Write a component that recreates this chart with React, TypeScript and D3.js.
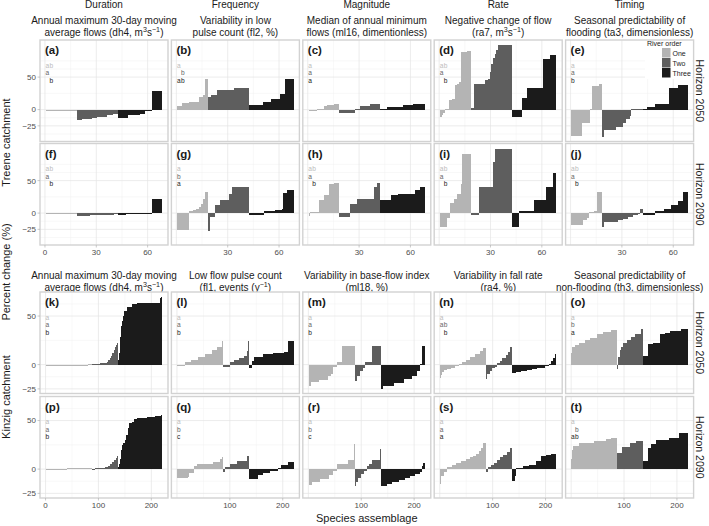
import React from 'react';
import * as d3 from 'd3';

// [percent change, number of species assemblages at that value], sorted within each river order
type Run = [number, number];

const riverOrders = ['One', 'Two', 'Three'];
const treeneGroupSizes = [18, 24, 26];
const kinzigGroupSizes = [87, 49, 84];

const facetTitles = ['Duration', 'Frequency', 'Magnitude', 'Rate', 'Timing'];
const treeneMetricTitles = [
  ['Annual maximum 30-day moving', 'average flows (dh4, m^{3}s^{−1})'],
  ['Variability in low', 'pulse count  (fl2, %)'],
  ['Median of annual minimum', 'flows (ml16, dimentionless)'],
  ['Negative change of flow', '(ra7, m^{3}s^{−1})'],
  ['Seasonal predictability of', 'flooding (ta3, dimensionless)'],
];
const kinzigMetricTitles = [
  ['Annual maximum 30-day moving', 'average flows (dh4, m^{3}s^{−1})'],
  ['Low flow pulse count', '(fl1, events (y^{−1})'],
  ['Variability in base-flow index', '(ml18, %)'],
  ['Variability in fall rate', '(ra4, %)'],
  ['Seasonal predictability of', 'non-flooding (th3, dimensionless)'],
];
const horizonLabels = ['Horizon 2050', 'Horizon 2090'];
const panelTags = [['a', 'b', 'c', 'd', 'e'], ['f', 'g', 'h', 'i', 'j'], ['k', 'l', 'm', 'n', 'o'], ['p', 'q', 'r', 's', 't']];

const yTicks = [-25, 0, 50];
const yMinorTicks = [-37.5, -12.5, 25, 62.5, 75];
const treeneXTicks = [0, 30, 60];
const treeneXMinor = [15, 45];
const kinzigXTicks = [0, 100, 200];
const kinzigXMinor = [50, 150];

// ---- Treene, horizon 2050
const runsA: Run[][] = [
  [[-1.5, 3], [-1, 10], [-0.5, 5]],
  [[-16, 3], [-15, 3], [-14, 3], [-13, 3], [-12, 3], [-11, 3], [-9, 3], [-7, 3]],
  [[-13, 6], [-9, 4], [-8, 3], [-7, 3], [-1.5, 4], [29, 6]],
];
const runsB: Run[][] = [
  [[5, 3], [10, 4], [12, 6], [19, 2], [22, 1], [47, 2]],
  [[19, 2], [23, 3], [30, 10], [33, 9]],
  [[7, 8], [12, 5], [16, 5], [24, 3], [47, 5]],
];
const runsC: Run[][] = [
  [[-1, 5], [0.5, 4], [6, 2], [7, 4], [8, 3]],
  [[-5.5, 9], [0.3, 3], [5, 6], [9, 6]],
  [[0.5, 4], [4.5, 9], [6.5, 6], [9, 7]],
];
const runsD: Run[][] = [
  [[-12, 1], [-8, 1], [-5, 1], [0.5, 2], [15, 2], [16, 1], [17, 1], [38, 1], [40, 1], [42, 1], [88, 2], [89, 2], [90, 2]],
  [[2, 2], [40, 6], [46, 2], [47, 1], [58, 1], [70, 1], [80, 1], [86, 1], [92, 1], [100, 8]],
  [[-12, 6], [18, 3], [33, 9], [78, 4], [84, 4]],
];
const runsE: Run[][] = [
  [[-40, 6], [-20, 5], [0.3, 1], [36, 4], [39, 2]],
  [[-42, 1], [-31, 7], [-27, 4], [-20, 2], [-14, 2], [-10, 1], [0.5, 7]],
  [[0.3, 2], [3.5, 5], [9, 8], [33, 5], [38, 6]],
];
// ---- Treene, horizon 2090
const runsF: Run[][] = [
  [[-0.5, 18]],
  [[-4, 8], [-3.5, 8], [-2.5, 6], [-1, 2]],
  [[-3, 5], [-1.5, 6], [-1, 9], [21, 6]],
];
const runsG: Run[][] = [
  [[-26, 7], [3, 2], [5, 2], [6, 2], [9, 1], [14, 1], [22, 1], [32, 2]],
  [[-27, 1], [-6, 3], [12, 3], [20, 5], [30, 2], [40, 10]],
  [[-3.5, 9], [3, 6], [5, 4], [6, 1], [31, 2], [36, 4]],
];
const runsH: Run[][] = [
  [[-5, 1], [0.5, 5], [20, 3], [28, 3], [45, 3], [47, 3]],
  [[-6, 6], [14, 4], [21, 10], [40, 2], [46, 2]],
  [[20, 6], [28, 4], [30, 10], [36, 3], [40, 3]],
];
const runsI: Run[][] = [
  [[-22, 4], [-8, 2], [15, 2], [22, 2], [30, 2], [45, 1], [91, 5]],
  [[-2.5, 5], [40, 8], [78, 1], [99, 10]],
  [[-22, 4], [3, 9], [20, 7], [40, 4], [62, 2]],
];
const runsJ: Run[][] = [
  [[-18, 7], [-11, 2], [-7, 1], [0.5, 3], [3, 2], [33, 3]],
  [[-22, 1], [-13, 8], [-11, 3], [-9, 3], [-6, 3], [-3, 3], [-1, 1], [7, 2]],
  [[-3.6, 7], [3, 5], [7, 4], [12, 4], [19, 3], [33, 3]],
];
// ---- Kinzig, horizon 2050
const runsK: Run[][] = [
  [[-1, 20], [-0.6, 30], [-0.3, 30], [0.5, 7]],
  [[0.5, 8], [1, 8], [1.5, 6], [2, 6], [3, 3], [5, 3], [7, 3], [9, 2], [12, 2], [15, 2], [18, 2], [20, 2], [22, 2]],
  [[3, 1], [5, 1], [8, 1], [12, 1], [20, 1], [28, 1], [35, 1], [40, 1], [45, 1], [48, 1], [50, 1], [52, 1], [55, 5], [59, 10], [62, 9], [63.5, 44], [69, 2], [70, 2]],
];
const runsL: Run[][] = [
  [[-1.7, 15], [2.4, 12], [5, 13], [7.5, 13], [11, 13], [14.6, 9], [18, 9], [24, 3]],
  [[-2.5, 12], [3, 8], [5, 10], [7, 9], [9, 6], [14, 2], [24, 2]],
  [[-3, 6], [4, 4], [8, 16], [11, 20], [12, 20], [13, 8], [24, 10]],
];
const runsM: Run[][] = [
  [[-22, 4], [-18, 16], [-16, 16], [-12, 6], [-10, 4], [-2, 8], [3, 10], [19, 23]],
  [[-17, 4], [-12, 6], [-7, 6], [-3, 4], [3, 13], [19, 16]],
  [[-25, 5], [-22, 20], [-19, 19], [-15, 16], [-12, 9], [-7, 6], [0.3, 3], [19, 6]],
];
const runsN: Run[][] = [
  [[-14, 1], [-11, 2], [-8, 4], [-6, 6], [-5, 8], [-3, 8], [-1, 6], [1, 6], [3, 8], [5, 8], [8, 10], [11, 8], [14, 7], [17, 5]],
  [[-15, 2], [-10, 5], [-7, 5], [-4, 5], [-2, 4], [2, 5], [4, 5], [7, 6], [10, 5], [13, 4], [18, 3]],
  [[-9, 8], [-8, 10], [-7, 10], [-6, 10], [-5, 10], [-4, 8], [-3, 6], [-1, 8], [1, 4], [4, 4], [7, 3], [11, 3]],
];
const runsO: Run[][] = [
  [[12, 2], [18, 4], [20, 8], [22, 12], [25, 10], [27, 12], [31, 12], [34, 14], [36, 13]],
  [[-5, 1], [8, 3], [15, 3], [18, 4], [22, 8], [25, 6], [28, 8], [32, 12], [37, 4]],
  [[9, 9], [21, 10], [22, 12], [32, 10], [33, 9], [35, 22], [37, 12]],
];
// ---- Kinzig, horizon 2090
const runsP: Run[][] = [
  [[-0.3, 40], [0.2, 47]],
  [[-1, 6], [0.5, 10], [1, 8], [2, 6], [3, 5], [5, 4], [7, 3], [9, 3], [11, 2], [13, 2]],
  [[2, 2], [5, 2], [10, 2], [20, 2], [25, 2], [27, 3], [30, 3], [35, 3], [42, 2], [47, 5], [48, 4], [52, 6], [53, 20], [54, 15], [55, 10], [56, 3]],
];
const runsQ: Run[][] = [
  [[-9, 20], [-8, 3], [-4, 8], [3, 6], [5, 31], [7, 13], [10, 3], [12, 3]],
  [[-3.4, 3], [2.4, 10], [5, 13], [8.5, 19], [13.6, 4]],
  [[-10, 17], [-6, 9], [-4, 13], [-2, 16], [1, 6], [4, 13], [7.5, 10]],
];
const runsR: Run[][] = [
  [[-16, 6], [-13.6, 16], [-10, 16], [-6, 9], [-2, 6], [4.8, 22], [9.5, 11], [26, 1]],
  [[-17, 2], [-13, 5], [-9, 5], [-5, 5], [-2, 6], [3, 4], [5, 6], [9, 15], [21, 1]],
  [[-17, 12], [-15, 10], [-13, 12], [-11, 12], [-9, 10], [-7, 10], [-5, 8], [-3, 4], [3, 3], [6, 3]],
];
const runsS: Run[][] = [
  [[-15, 2], [-7, 6], [-3, 6], [2, 9], [4, 8], [6, 9], [8, 9], [10, 7], [12, 6], [14, 6], [16, 5], [19, 5], [22, 4], [27, 5]],
  [[-3, 3], [2, 6], [4, 6], [6, 6], [9, 6], [12, 6], [15, 6], [18, 6], [22, 4]],
  [[-12, 5], [-7, 3], [0.5, 13], [3, 12], [4, 13], [8, 9], [13, 9], [15, 10], [16, 10]],
];
const runsT: Run[][] = [
  [[10, 1], [20, 2], [24, 12], [27, 28], [29, 22], [31, 10], [32, 12]],
  [[17, 8], [23, 16], [26.5, 12], [29, 12], [41, 1]],
  [[8.5, 9], [22, 6], [25.5, 9], [30, 25], [32, 19], [37, 16]],
];

// significance letters (One, Two, Three)
const lettersTreene2050 = [['ab', 'a', 'b'], ['a', 'b', 'ab'], ['a', 'a', 'a'], ['ab', 'a', 'b'], ['a', 'a', 'b']];
const lettersTreene2090 = [['ab', 'a', 'b'], ['a', 'b', 'a'], ['ab', 'a', 'b'], ['ab', 'a', 'b'], ['ab', 'a', 'b']];
const lettersKinzig2050 = [['a', 'a', 'b'], ['a', 'a', 'b'], ['a', 'a', 'b'], ['a', 'ab', 'b'], ['a', 'b', 'a']];
const lettersKinzig2090 = [['a', 'a', 'b'], ['a', 'b', 'c'], ['a', 'b', 'c'], ['a', 'a', 'a'], ['a', 'b', 'ab']];

const fills = ['#b4b4b4', '#5e5e5e', '#1b1b1b'];
const letterFills = ['#bcbcbc', '#666666', '#1b1b1b'];
const SANS = '"Liberation Sans", Arial, Helvetica, sans-serif';

const panelLeft0 = 40;
const panelW = 128;
const panelGap = 3.4;
const panelH = 101.5;
const rowTops = [40, 143.5, 292, 396.5];

const expandRuns = (runs: Run[]) => runs.flatMap(([v, n]) => Array(n).fill(v) as number[]);

const fmt = (v: number) => (v < 0 ? '\u2212' + Math.abs(v) : String(v));

function RichText({ s, x, y, size }: { s: string; x: number; y: number; size: number }) {
  const parts = s.split(/(\^\{[^}]*\})/).filter((p) => p.length);
  return (
    <text x={x} y={y} textAnchor="middle" fontSize={size} fill="#1a1a1a">
      {parts.map((p, i) =>
        p.startsWith('^{') ? (
          <tspan key={i} baselineShift="3.6" fontSize={size * 0.72}>{p.slice(2, -1)}</tspan>
        ) : (
          <tspan key={i}>{p}</tspan>
        )
      )}
    </text>
  );
}

function yDomain(panels: Run[][][]) {
  const vals = panels.flatMap((p) => p.flatMap((g) => g.map((r) => r[0])));
  const [lo, hi] = d3.extent(vals) as [number, number];
  const pad = (hi - lo) * 0.05;
  return [lo - pad, hi + pad];
}

export default function App() {
  const treenePanels = [[runsA, runsB, runsC, runsD, runsE], [runsF, runsG, runsH, runsI, runsJ]];
  const kinzigPanels = [[runsK, runsL, runsM, runsN, runsO], [runsP, runsQ, runsR, runsS, runsT]];
  const treeneY = yDomain(treenePanels.flat());
  const kinzigY = yDomain(kinzigPanels.flat());

  const rows = [
    { panels: treenePanels[0], letters: lettersTreene2050, sizes: treeneGroupSizes, yd: treeneY, xt: treeneXTicks, xm: treeneXMinor, bottom: false },
    { panels: treenePanels[1], letters: lettersTreene2090, sizes: treeneGroupSizes, yd: treeneY, xt: treeneXTicks, xm: treeneXMinor, bottom: true },
    { panels: kinzigPanels[0], letters: lettersKinzig2050, sizes: kinzigGroupSizes, yd: kinzigY, xt: kinzigXTicks, xm: kinzigXMinor, bottom: false },
    { panels: kinzigPanels[1], letters: lettersKinzig2090, sizes: kinzigGroupSizes, yd: kinzigY, xt: kinzigXTicks, xm: kinzigXMinor, bottom: true },
  ];

  const colLeft = (c: number) => panelLeft0 + c * (panelW + panelGap);
  const rightEdge = colLeft(4) + panelW;

  return (
    <svg width={709} height={526} style={{ position: 'absolute', left: 0, top: 0, background: '#fff' }} fontFamily={SANS}>
      <rect width={709} height={526} fill="#fff" />
      {/* column headers + metric titles */}
      {facetTitles.map((t, c) => {
        const cx = colLeft(c) + panelW / 2;
        return (
          <g key={t}>
            <text x={cx} y={8.3} textAnchor="middle" fontSize={10} fill="#1a1a1a">{t}</text>
            <RichText s={treeneMetricTitles[c][0]} x={cx} y={24} size={10} />
            <RichText s={treeneMetricTitles[c][1]} x={cx} y={36.3} size={10} />
            <RichText s={kinzigMetricTitles[c][0]} x={cx} y={279} size={10} />
            <RichText s={kinzigMetricTitles[c][1]} x={cx} y={290.6} size={10} />
          </g>
        );
      })}

      {rows.map((row, r) => {
        const top = rowTops[r];
        const y = d3.scaleLinear().domain(row.yd).range([top + panelH, top]);
        const n = d3.sum(row.sizes);
        return (
          <g key={r}>
            {row.panels.map((runs, c) => {
              const left = colLeft(c);
              const x = d3.scaleLinear().domain([0.5 - 0.05 * n, n + 0.5 + 0.05 * n]).range([left, left + panelW]);
              const bars: { i: number; v: number; g: number }[] = [];
              let idx = 1;
              runs.forEach((g, gi) => {
                expandRuns(g).forEach((v) => { bars.push({ i: idx, v, g: gi }); idx++; });
              });
              const lab = row.letters[c];
              const multi = lab.some((s) => s.length > 1);
              return (
                <g key={c}>
                  <rect x={left} y={top} width={panelW} height={panelH} fill="#fff" />
                  {row.xm.map((t) => (
                    <line key={'xm' + t} x1={x(t)} x2={x(t)} y1={top} y2={top + panelH} stroke="#f0f0f0" strokeWidth={0.5} />
                  ))}
                  {yMinorTicks.filter((t) => t > row.yd[0] && t < row.yd[1]).map((t) => (
                    <line key={'ym' + t} x1={left} x2={left + panelW} y1={y(t)} y2={y(t)} stroke="#f0f0f0" strokeWidth={0.5} />
                  ))}
                  {row.xt.map((t) => (
                    <line key={'xg' + t} x1={x(t)} x2={x(t)} y1={top} y2={top + panelH} stroke="#e4e4e4" strokeWidth={0.7} />
                  ))}
                  {yTicks.map((t) => (
                    <line key={'yg' + t} x1={left} x2={left + panelW} y1={y(t)} y2={y(t)} stroke="#e4e4e4" strokeWidth={0.7} />
                  ))}
                  <g shapeRendering="crispEdges">
                    {bars.map((b) => {
                      const y0 = y(0);
                      const y1 = y(b.v);
                      const h = Math.max(Math.abs(y1 - y0), 1);
                      return (
                        <rect
                          key={b.i}
                          x={x(b.i - 0.5)}
                          width={x(b.i + 0.5) - x(b.i - 0.5)}
                          y={b.v >= 0 ? y0 - h : y0}
                          height={h}
                          fill={fills[b.g]}
                        />
                      );
                    })}
                  </g>
                  <text x={left + 5} y={top + 14.3} fontSize={11.5} fontWeight="bold" fill="#1a1a1a">
                    ({panelTags[r][c]})
                  </text>
                  <text fontSize={6.6}>
                    {lab.flatMap((s, gi) =>
                      s.split('').map((ch, k) => (
                        <tspan
                          key={gi + '-' + k}
                          x={left + 5.5 + (multi ? (ch.charCodeAt(0) - 97) * 4 : 0)}
                          y={top + 27.8 + gi * 7.4}
                          fill={letterFills[gi]}
                        >
                          {ch}
                        </tspan>
                      ))
                    )}
                  </text>
                  <rect x={left} y={top} width={panelW} height={panelH} fill="none" stroke="#d2d2d2" strokeWidth={1.4} />
                  {c === 0 &&
                    yTicks.map((t) => (
                      <g key={'yl' + t}>
                        <line x1={left - 2.5} x2={left} y1={y(t)} y2={y(t)} stroke="#b3b3b3" strokeWidth={0.7} />
                        <text x={left - 4} y={y(t) + 2.9} textAnchor="end" fontSize={8} fill="#4d4d4d">{fmt(t)}</text>
                      </g>
                    ))}
                  {row.bottom &&
                    row.xt.filter((t) => c === 0 || t !== 0).map((t) => (
                      <g key={'xl' + t}>
                        <line x1={x(t)} x2={x(t)} y1={top + panelH} y2={top + panelH + 2.5} stroke="#b3b3b3" strokeWidth={0.7} />
                        <text x={x(t)} y={top + panelH + 10.2} textAnchor="middle" fontSize={8} fill="#4d4d4d">{fmt(t)}</text>
                      </g>
                    ))}
                </g>
              );
            })}
            <text
              transform={`translate(${rightEdge + 2},${top + panelH / 2}) rotate(90)`}
              textAnchor="middle"
              fontSize={10.5}
              fill="#1a1a1a"
            >
              {horizonLabels[r % 2]}
            </text>
          </g>
        );
      })}

      {/* legend inside panel (e) */}
      <g>
        <rect x={645} y={41} width={47} height={38} fill="#fff" />
        <text x={647} y={46} fontSize={7} fill="#1a1a1a">River order</text>
        {riverOrders.map((o, i) => (
          <g key={o}>
            <rect x={662} y={48 + i * 10} width={8.5} height={9.5} fill={fills[i]} />
            <text x={672.5} y={55.5 + i * 10} fontSize={7} fill="#1a1a1a">{o}</text>
          </g>
        ))}
      </g>

      {/* outer labels */}
      <text transform={`translate(10,142.5) rotate(-90)`} textAnchor="middle" fontSize={11} fill="#1a1a1a">Treene catchment</text>
      <text transform={`translate(10,272) rotate(-90)`} textAnchor="middle" fontSize={11} fill="#1a1a1a">Percent change (%)</text>
      <text transform={`translate(10,397) rotate(-90)`} textAnchor="middle" fontSize={11} fill="#1a1a1a">Kinzig catchment</text>
      <text x={(panelLeft0 + rightEdge) / 2} y={521.5} textAnchor="middle" fontSize={11} fill="#1a1a1a">Species assemblage</text>
    </svg>
  );
}
